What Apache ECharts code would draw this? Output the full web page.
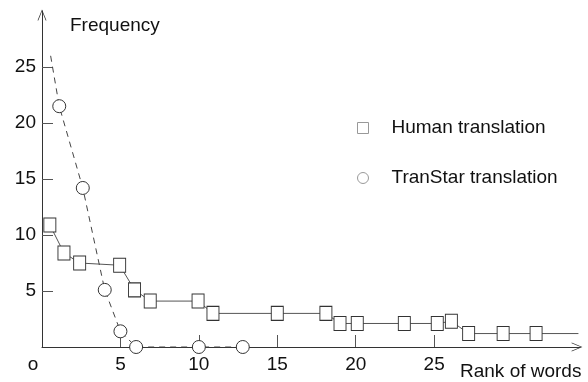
<!DOCTYPE html>
<html>
<head>
<meta charset="utf-8">
<script src="https://cdn.jsdelivr.net/npm/echarts@6/dist/echarts.min.js"></script>
<style>
  html, body { margin: 0; padding: 0; background: #fff; }
  #chart { width: 588px; height: 382px; }
</style>
</head>
<body>
<div id="chart"></div>
<script>
// values
const humanRank = [0.5, 1.4, 2.4, 4.95, 5.9, 6.9, 9.95, 10.9, 15, 18.1, 19, 20.1, 23.1, 25.2, 26.1, 27.2, 29.4, 31.5]
const humanFreq = [10.9, 8.4, 7.5, 7.3, 5.1, 4.1, 4.1, 3.0, 3.0, 3.0, 2.1, 2.1, 2.1, 2.1, 2.3, 1.2, 1.2, 1.2]
const humanTail = [34.2, 1.2]   // line runs on past the last square
const tranRank = [1.1, 2.6, 4, 5, 6, 10, 12.8]
const tranFreq = [21.5, 14.2, 5.1, 1.4, 0, 0, 0]
const tranHead = [0.55, 26]     // dashed line starts above the first circle
const xTicks = [0, 5, 10, 15, 20, 25]
const yTicks = [5, 10, 15, 20, 25]

const FONT = 'Liberation Sans'
const arrow = 'path://M0,12 L5,0 L10,12 L9.1,12 L5,1.9 L0.9,12 Z'

let humanData = humanRank.map((x, i) => [x, humanFreq[i]])
humanData.push({ value: humanTail, symbol: 'none' })
let tranData = [{ value: tranHead, symbol: 'none' }]
tranRank.forEach((x, i) => tranData.push([x, tranFreq[i]]))

const chart = echarts.init(document.getElementById('chart'))
chart.setOption({
  animation: false,
  grid: { left: 42, right: 8, top: 11, bottom: 35 },
  xAxis: {
    type: 'value', min: 0, max: 34.3, interval: 5,
    splitLine: { show: false },
    axisLine: { lineStyle: { color: '#333', width: 1 }, symbol: ['none', arrow], symbolSize: [9, 14], symbolOffset: [0, -3] },
    axisTick: { inside: true, length: 12, customValues: yTicks, lineStyle: { color: '#555' } },
    axisLabel: {
      customValues: xTicks, margin: 8, color: '#111', fontFamily: FONT, fontSize: 19,
      formatter: v => v === 0 ? '{o|o}' : String(v),
      rich: { o: { fontFamily: FONT, fontSize: 19, color: '#111', padding: [0, 18, 0, 0] } }
    }
  },
  yAxis: {
    type: 'value', min: 0, max: 30, interval: 5,
    splitLine: { show: false },
    axisLine: { lineStyle: { color: '#333', width: 1 }, symbol: ['none', arrow], symbolSize: [9, 14], symbolOffset: [0, -4] },
    axisTick: { inside: true, length: 11, customValues: yTicks, lineStyle: { color: '#555' } },
    axisLabel: { customValues: yTicks, margin: 6, color: '#111', fontFamily: FONT, fontSize: 19 }
  },
  legend: {
    orient: 'vertical', left: 352, top: 113, itemGap: 30,
    itemWidth: 11, itemHeight: 11,
    textStyle: { fontFamily: FONT, fontSize: 19, color: '#111', lineHeight: 20, padding: [0, 0, 0, 18] },
    data: [
      { name: 'Human translation', icon: 'rect', itemStyle: { color: '#fff', borderColor: '#999', borderWidth: 1 } },
      { name: 'TranStar translation', icon: 'circle', itemStyle: { color: '#fff', borderColor: '#999', borderWidth: 1 } }
    ]
  },
  graphic: [
    { type: 'text', left: 70, top: 16, style: { text: 'Frequency', fontFamily: FONT, fontSize: 19, fill: '#111' } },
    { type: 'text', left: 460, top: 362, style: { text: 'Rank of words', fontFamily: FONT, fontSize: 19, fill: '#111' } }
  ],
  series: [
    {
      name: 'Human translation', type: 'line', data: humanData,
      symbol: 'rect', symbolSize: [12, 14], showAllSymbol: true,
      lineStyle: { color: '#555', width: 1 },
      itemStyle: { color: '#fff', borderColor: '#333', borderWidth: 1 },
      z: 3
    },
    {
      name: 'TranStar translation', type: 'line', data: tranData,
      symbol: 'circle', symbolSize: 13, showAllSymbol: true,
      lineStyle: { color: '#444', width: 1, type: [6, 5] },
      itemStyle: { color: '#fff', borderColor: '#333', borderWidth: 1 },
      z: 4
    }
  ]
})
</script>
</body>
</html>
